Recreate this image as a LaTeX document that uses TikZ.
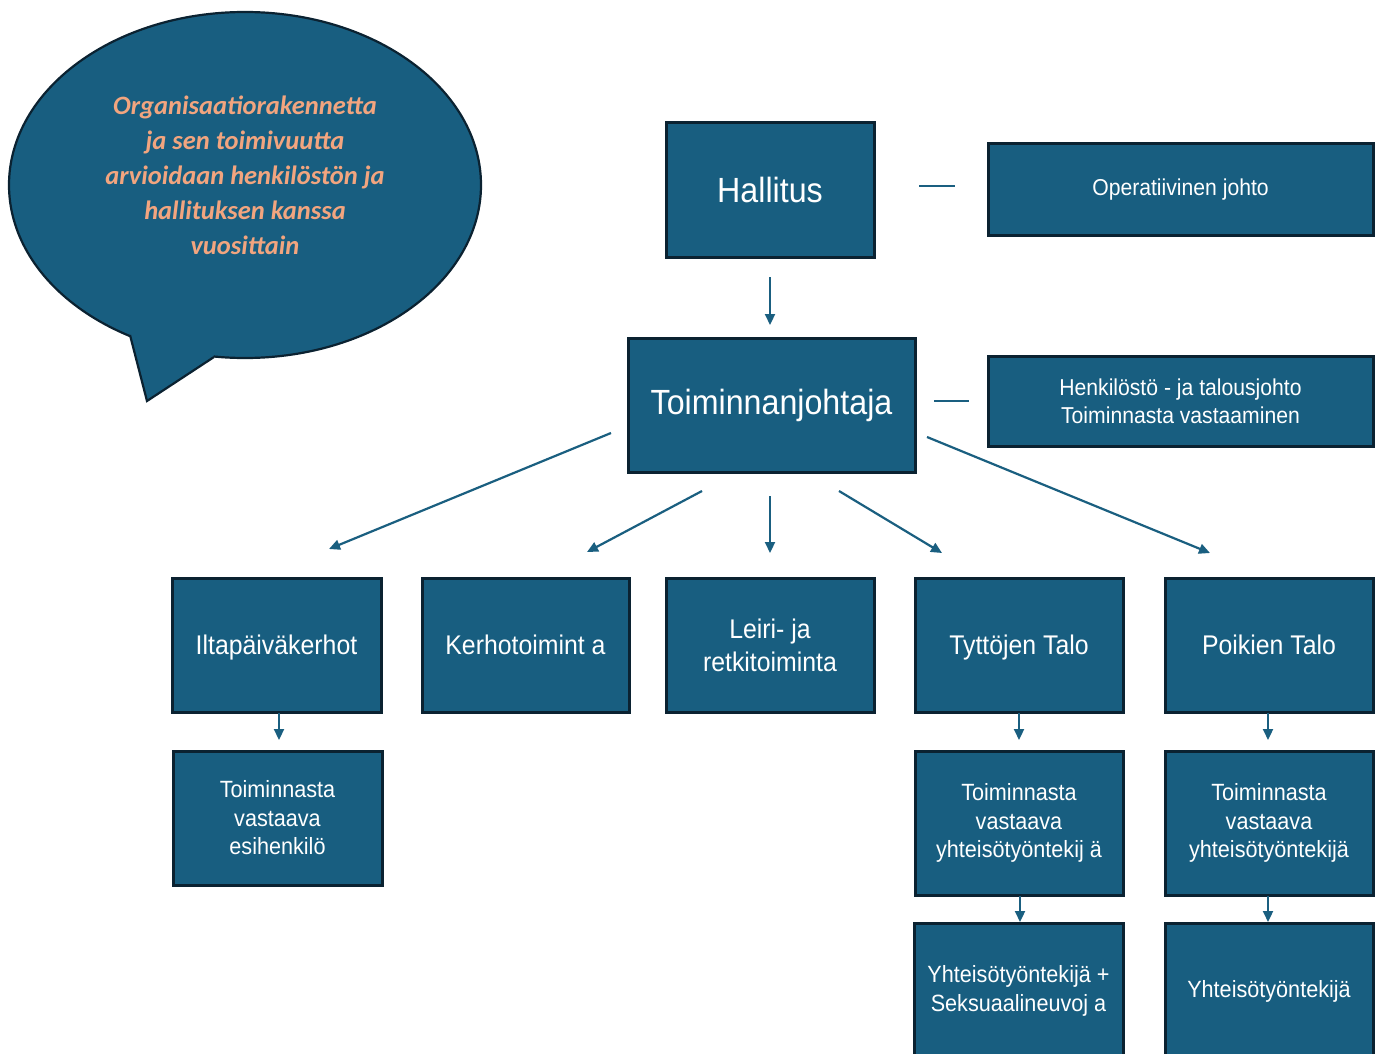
\documentclass[tikz,border=0pt]{standalone}
\usepackage{fontspec}
\setmainfont{Liberation Sans}[FakeStretch=0.92]
\newfontfamily\bubblefont{Carlito}
\usetikzlibrary{arrows.meta}
\definecolor{boxfill}{HTML}{185E80}
\definecolor{boxline}{HTML}{0B2231}
\definecolor{arrowcol}{HTML}{1A5F80}
\definecolor{bubbletext}{HTML}{F2A57F}
\newcommand{\fs}[2]{\fontsize{#1}{#2}\selectfont}
\begin{document}
\begin{tikzpicture}[x=1pt,y=-1pt,
  orgbox/.style={draw=boxline, fill=boxfill, line width=3pt, text=white, align=center, inner sep=0pt, rectangle},
  rowline/.style={text height=19.5pt, text depth=0pt},
  conn/.style={draw=arrowcol, line width=2.2pt, -{Triangle[length=11pt,width=10pt]}},
  dashline/.style={draw=arrowcol, line width=2.5pt}]
\clip (0,0) rectangle (1381,1054);
\fill[white] (0,0) rectangle (1381,1054);

% speech bubble
\fill[boxfill, draw=boxline, line width=2.2pt] (245,185) ellipse [x radius=236, y radius=173];
\fill[boxfill] (130,335) -- (147,401) -- (214,357) -- (200,300) -- (140,300) -- cycle;
\draw[boxline, line width=2.2pt, line join=miter] (130,335) -- (147,401) -- (214,357);
\node[text=bubbletext, align=center, font=\bubblefont\bfseries\itshape\fs{26.5}{35}] (bubble) at (245,175)
  {Organisaatiorakennetta\\ja sen toimivuutta\\arvioidaan henkilöstön ja\\hallituksen kanssa\\vuosittain};

% top level
\node[orgbox, minimum width=208, minimum height=134, font=\fs{35}{42}] (hall) at (770,190) {Hallitus};
\node[orgbox, minimum width=385, minimum height=91, font=\fs{23}{28}] (oper) at (1180.5,189.5) {Operatiivinen johto};
\node[orgbox, minimum width=287, minimum height=134, font=\fs{35}{42}] (toim) at (771.5,405) {Toiminnanjohtaja};
\node[orgbox, minimum width=385, minimum height=90, font=\fs{23}{28}] (henk) at (1180.5,401) {Henkilöstö - ja talousjohto\\Toiminnasta vastaaminen};

% row
\node[orgbox, rowline, minimum width=209, minimum height=134, font=\fs{27}{33}] (ilta) at (276.5,645) {Iltapäiväkerhot};
\node[orgbox, rowline, minimum width=207, minimum height=134, font=\fs{27}{33}] (kerho) at (525.5,645) {Kerhotoimint a};
\node[orgbox, minimum width=208, minimum height=134, font=\fs{27}{33}] (leiri) at (770,645) {Leiri- ja\\retkitoiminta};
\node[orgbox, rowline, minimum width=208, minimum height=134, font=\fs{27}{33}] (tytto) at (1019,645) {Tyttöjen Talo};
\node[orgbox, rowline, minimum width=208, minimum height=134, font=\fs{27}{33}] (poika) at (1269,645) {Poikien Talo};

% lower
\node[orgbox, minimum width=209, minimum height=134, font=\fs{23.5}{28.5}] (iltasub) at (277.5,818) {Toiminnasta\\vastaava\\esihenkilö};
\node[orgbox, minimum width=208, minimum height=144, font=\fs{23.5}{28.5}] (tyttosub) at (1019,823) {Toiminnasta\\vastaava\\yhteisötyöntekij ä};
\node[orgbox, minimum width=208, minimum height=144, font=\fs{23.5}{28.5}] (poikasub) at (1269,823) {Toiminnasta\\vastaava\\yhteisötyöntekijä};
\node[orgbox, minimum width=209, minimum height=136, font=\fs{23.5}{28.5}] (tyttobot) at (1018.5,991) {Yhteisötyöntekijä +\\Seksuaalineuvoj a};
\node[orgbox, minimum width=208, minimum height=136, font=\fs{23.5}{28.5}] (poikabot) at (1269,991) {Yhteisötyöntekijä};

% connector end points
\coordinate (d1a) at (919,186); \coordinate (d1b) at (955,186);
\coordinate (d2a) at (934,401); \coordinate (d2b) at (969,401);
\coordinate (h1) at (770,277); \coordinate (h2) at (770,325);
\coordinate (a1s) at (611,433); \coordinate (a1e) at (329,549);
\coordinate (a2s) at (702,491); \coordinate (a2e) at (587,552);
\coordinate (a3s) at (770,496); \coordinate (a3e) at (770,553);
\coordinate (a4s) at (839,491); \coordinate (a4e) at (942,553);
\coordinate (a5s) at (927,437); \coordinate (a5e) at (1210,553);
\coordinate (b1s) at (279,713); \coordinate (b1e) at (279,740);
\coordinate (b2s) at (1019,713); \coordinate (b2e) at (1019,740);
\coordinate (b3s) at (1268,713); \coordinate (b3e) at (1268,740);
\coordinate (c1s) at (1020,896); \coordinate (c1e) at (1020,922);
\coordinate (c2s) at (1268,896); \coordinate (c2e) at (1268,922);

\draw[dashline] (d1a) -- (d1b);
\draw[dashline] (d2a) -- (d2b);
\draw[conn] (h1) -- (h2);
\draw[conn] (a1s) -- (a1e);
\draw[conn] (a2s) -- (a2e);
\draw[conn] (a3s) -- (a3e);
\draw[conn] (a4s) -- (a4e);
\draw[conn] (a5s) -- (a5e);
\draw[conn] (b1s) -- (b1e);
\draw[conn] (b2s) -- (b2e);
\draw[conn] (b3s) -- (b3e);
\draw[conn] (c1s) -- (c1e);
\draw[conn] (c2s) -- (c2e);
\end{tikzpicture}
\end{document}
